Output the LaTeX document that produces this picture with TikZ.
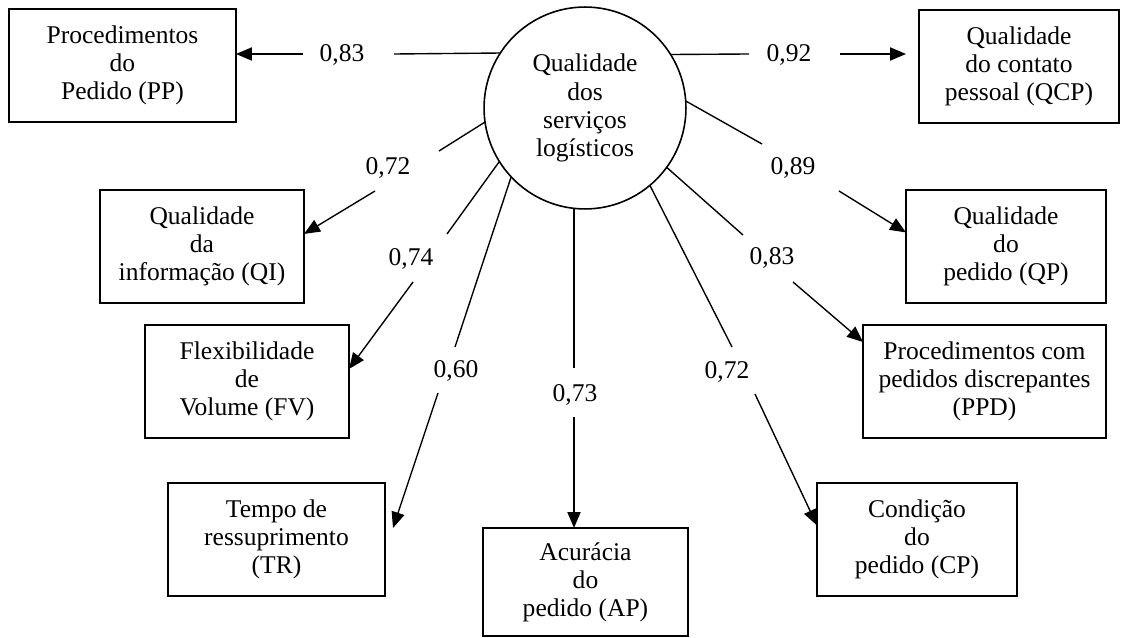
\documentclass[tikz,border=0pt]{standalone}
\usepackage{fontspec}
\setmainfont{Liberation Serif}
\usetikzlibrary{arrows.meta}

\begin{document}
\begin{tikzpicture}[x=0.47pt,y=-0.47pt,
  every node/.style={font=\fontsize{12}{13.2}\selectfont},
  indbox/.style={draw, line width=0.85pt, align=center, inner sep=0pt, outer sep=0pt, minimum height=53.1pt},
  latent/.style={draw, circle, line width=0.75pt, align=center, inner sep=0pt, outer sep=0pt, minimum size=94.9pt},
  load/.style={inner sep=1pt},
  link/.style={line width=0.65pt},
  arr/.style={link, -{Triangle[length=7.5pt,width=6.2pt]}}]
\useasboundingbox (0,0) rectangle (1130,638);

% Latent construct
\node[latent] (Q) at (585,108) {Qualidade\\dos\\serviços\\logísticos};

% Indicators
\node[indbox, minimum width=106.7pt] (PP)  at (122.5,65.5) {Procedimentos\\do\\Pedido (PP)};
\node[indbox, minimum width=94pt]    (QCP) at (1019,66.5)  {Qualidade\\do contato\\pessoal (QCP)};
\node[indbox, minimum width=95.9pt]  (QI)  at (202,246.5)  {Qualidade\\da\\informação (QI)};
\node[indbox, minimum width=95.9pt]  (FV)  at (247,381.5)  {Flexibilidade\\de\\Volume (FV)};
\node[indbox, minimum width=102pt]   (TR)  at (276.5,539.5) {Tempo de\\ressuprimento\\(TR)};
\node[indbox, minimum width=96.4pt, minimum height=50.8pt] (AP) at (585.5,582) {Acurácia\\do\\pedido (AP)};
\node[indbox, minimum width=94pt]    (CP)  at (917,539.5)  {Condição\\do\\pedido (CP)};
\node[indbox, minimum width=114.2pt] (PPD) at (984.5,381.5) {Procedimentos com\\pedidos discrepantes\\(PPD)};
\node[indbox, minimum width=94pt]    (QP)  at (1006,246.5) {Qualidade\\do\\pedido (QP)};

% Loadings
\node[load] (l1) at (342,55)  {0,83};
\node[load] (l2) at (789,55)  {0,92};
\node[load] (l3) at (388,168) {0,72};
\node[load] (l4) at (411,259) {0,74};
\node[load] (l5) at (456,371) {0,60};
\node[load] (l6) at (575,395) {0,73};
\node[load] (l7) at (727,372) {0,72};
\node[load] (l8) at (772,258) {0,83};
\node[load] (l9) at (793,168) {0,89};

% Break points around the loadings
\coordinate (a1) at (394,54);  \coordinate (b1) at (303,54);
\coordinate (a2) at (749,54);  \coordinate (b2) at (840,54);  \coordinate (t2) at (906,54);
\coordinate (a3) at (439,151); \coordinate (b3) at (375,191);
\coordinate (a4) at (447,234); \coordinate (b4) at (413,282);
\coordinate (a5) at (455,347); \coordinate (b5) at (438,393); \coordinate (t5) at (393,528);
\coordinate (a6) at (574,368); \coordinate (b6) at (574,417);
\coordinate (a7) at (732,347); \coordinate (b7) at (755,394);
\coordinate (a8) at (743,235); \coordinate (b8) at (793,282);
\coordinate (a9) at (762,144); \coordinate (b9) at (839,191);

% Paths
\draw[link] (Q.147.6) -- (a1);  \draw[arr] (b1) -- (b1 -| PP.east);
\draw[link] (Q.32.4) -- (a2);   \draw[arr] (b2) -- (t2);
\draw[link] (Q.188) -- (a3);    \draw[arr] (b3) -- (QI.7.5);
\draw[link] (Q.212.6) -- (a4);  \draw[arr] (b4) -- (FV.7.5);
\draw[link] (Q.223) -- (a5);    \draw[arr] (b5) -- (t5);
\draw[link] (a6 |- Q.south) -- (a6); \draw[arr] (b6) -- (b6 |- AP.north);
\draw[link] (Q.310.3) -- (a7);  \draw[arr] (b7) -- (CP.172.9);
\draw[link] (Q.324.8) -- (a8);  \draw[arr] (b8) -- (PPD.162.6);
\draw[link] (Q.4.6) -- (a9);    \draw[arr] (b9) -- (QP.172.3);

\end{tikzpicture}
\end{document}
